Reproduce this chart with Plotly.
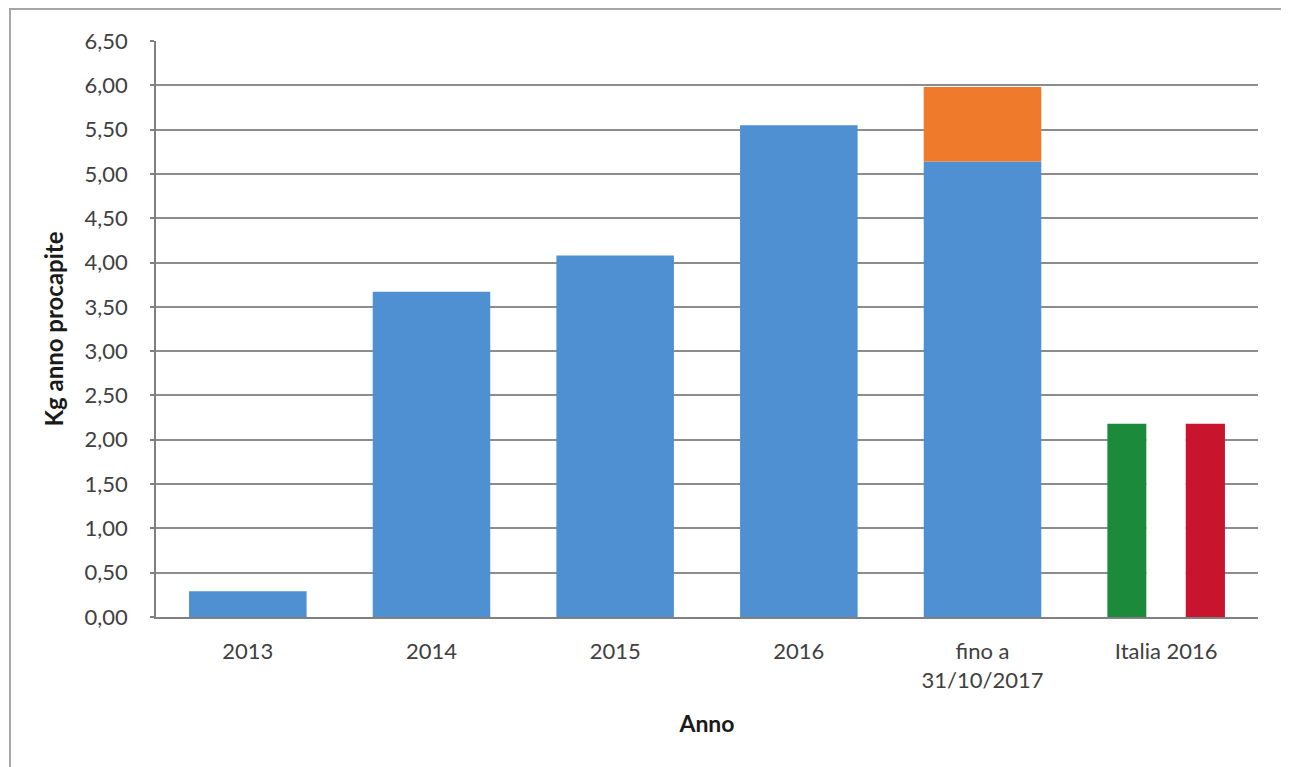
import plotly.graph_objects as go

categories = ["2013", "2014", "2015", "2016", "fino a<br>31/10/2017", "Italia 2016"]
blue_values = [0.29, 3.67, 4.08, 5.55, 5.14, None]
orange_values = [None, None, None, None, 0.84, None]
italia_value = 2.18
y_tickvals = [0, 0.5, 1, 1.5, 2, 2.5, 3, 3.5, 4, 4.5, 5, 5.5, 6, 6.5]

FONT = "Lato"
fig = go.Figure()

fig.add_trace(go.Bar(
    x=categories, y=blue_values, width=0.64,
    marker=dict(color="#4f90d2", line=dict(width=0)), showlegend=False,
))
fig.add_trace(go.Bar(
    x=categories, y=orange_values, base=blue_values, width=0.64,
    marker=dict(color="#ef7a2c", line=dict(width=0)), showlegend=False,
))
# Italian flag bars (green, white, red)
for col, off in [("#1b8a3a", -0.32), ("#ffffff", -0.1067), ("#c8142c", 0.1067)]:
    fig.add_trace(go.Bar(
        x=[categories[5]], y=[italia_value], width=0.2133, offset=off,
        marker=dict(color=col, line=dict(width=0)), showlegend=False,
    ))

fig.update_layout(
    barmode="overlay",
    width=1280, height=760,
    margin=dict(l=148, r=30, t=33, b=151, autoexpand=False),
    paper_bgcolor="white", plot_bgcolor="white",
    separators=", ",
    font=dict(family=FONT, size=22, color="#404040"),
    xaxis=dict(
        type="category", range=[-0.5, 5.5],
        showline=True, linecolor="#808080", linewidth=1.5,
        showgrid=False, ticks="", ticklabelstandoff=14,
        tickfont=dict(family=FONT, size=22, color="#404040"),
        title=dict(text="<b>Anno</b>", font=dict(family=FONT, size=23, color="#1a1a1a"), standoff=24),
        automargin=False,
    ),
    yaxis=dict(
        range=[0, 6.5], tickvals=y_tickvals, tickformat=".2f",
        showline=True, linecolor="#808080", linewidth=1.5,
        showgrid=True, gridcolor="#8c8c8c", gridwidth=1.5,
        ticks="outside", ticklen=4, tickcolor="#808080", tickwidth=1.5,
        ticklabelstandoff=18, zeroline=False,
        tickfont=dict(family=FONT, size=22, color="#404040"),
        title=dict(text="<b>Kg anno procapite</b>", font=dict(family=FONT, size=24, color="#1a1a1a"), standoff=14),
        automargin=False,
    ),
    shapes=[dict(
        type="rect", xref="paper", yref="paper",
        x0=-0.1325, x1=1.0245, y0=-0.35, y1=1.0556,
        line=dict(color="#a6a6a6", width=2), fillcolor="rgba(0,0,0,0)", layer="below",
    )],
)

fig.write_html("out.html")
